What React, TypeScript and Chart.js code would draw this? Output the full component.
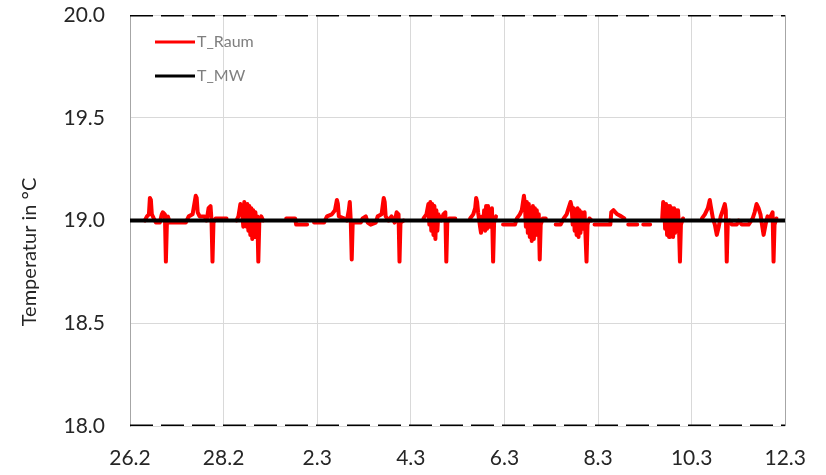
import React, { useEffect, useRef } from "react";
import { Chart, registerables } from "chart.js";

Chart.register(...registerables);

// time in hours since 26.2 00:00
const hours = [
  7.6, 8.7, 9.7, 10.2, 10.7, 11.2, 12.2, 13.3, 15.3, 16.3, 16.8, 17.9, 18.4, 18.9, 19.4, 20.4, 28.6, 30.1, 32.1, 33.7, 34.2, 34.7, 35.7, 38.2, 39.3, 40.3, 41.3, 41.8, 42.3, 42.8, 43.9, 49.5, 52,
  54.6, 55.6, 56.6, 57.6, 58.1, 58.6, 59.7, 60.2, 60.7, 61.2, 61.7, 62.2, 62.7, 63.2, 63.8, 64.3, 64.8, 65.3, 65.8, 66.3, 67.3, 68.3, 74,
  80.1, 84.7, 85.2, 90.8, 92,
  94.4, 99.5, 101.0, 103.5, 105.1, 106.1, 106.6, 107.1, 109.7, 111.2, 112.2, 112.7, 113.2, 113.7, 114.2, 118.3, 119.3, 120.9, 121.9, 123.4, 126.0, 127.0, 129.0, 130.1, 130.6, 131.1, 132.6, 134.1, 135.7, 136.7, 137.7, 138.2, 138.7, 140.3, 145,
  150.5, 152.0, 153.0, 153.5, 154.0, 154.5, 155.0, 155.6, 156.1, 156.6, 157.1, 157.6, 158.1, 159.6, 160.7, 161.7, 162.2, 162.7, 163.7, 166.8, 170,
  174.4, 176.0, 177.0, 177.5, 178.0, 178.5, 179.5, 180.0, 180.5, 181.1, 181.6, 182.1, 182.6, 183.1, 183.6, 184.1, 184.6, 185.1, 185.6, 186.2, 186.7, 187.7, 189,
  191.3, 197.4, 198.4, 199.9, 200.9, 202.0, 202.5, 203.0, 203.5, 204.0, 204.5, 205.0, 205.5, 206.0, 206.6, 207.1, 207.6, 208.1, 208.6, 209.1, 209.6, 210.1, 210.6, 211.7, 213.2, 215,
  218.3, 220.8, 222.4, 223.9, 224.9, 225.9, 226.4, 227.0, 227.5, 228.0, 228.5, 229.0, 229.5, 230.0, 230.5, 231.0, 231.5, 232.1, 233.1, 234.1, 234.6, 235.6, 236.6, 237.4,
  238.2, 246.3, 246.8, 247.9, 248.9, 249.9, 251.9, 253.5, 254.5,
  255.5, 260.1, 261.5,
  263.2, 266.7, 270,
  272.9, 273.4, 273.9, 274.4, 274.9, 275.4, 275.9, 276.4, 276.9, 277.4, 278.0, 278.5, 279.0, 279.5, 280.0, 280.5, 281.0, 281.5, 282.0, 282.5, 283.6, 288,
  293.3, 294.8, 296.3, 297.3, 297.8, 298.9, 299.9, 300.9, 301.9, 302.9, 304.0, 305.0, 305.5, 306.0, 306.5, 307.5, 308.6, 311.1, 312.1, 313.7, 317.2, 319.3, 320.3, 321.3, 322.3, 323.3, 323.9, 324.9, 325.9, 326.9, 327.9, 329.0, 329.5, 330.0, 330.5, 331.5,
];

const tRaum = [
  19.0, 19.02, 19.03, 19.11, 19.1, 19.03, 19.01, 18.99, 18.99, 19.03, 19.04, 19.03, 18.8, 18.98, 19.02, 18.99, 18.99, 19.02, 19.03, 19.12, 19.11, 19.04, 19.02, 19.02, 19.0, 19.06, 19.07, 19.0, 18.8, 18.99, 19.01, 19.01, null,
  19.0, 19.02, 19.08, 19.03, 18.97, 19.09, 18.97, 19.08, 18.95, 19.07, 18.93, 19.06, 18.91, 19.05, 18.92, 19.04, 18.98, 19.02, 18.8, 18.99, 19.02, 19.0, null,
  19.01, 19.01, 18.98, 18.98, null,
  18.99, 18.99, 19.02, 19.03, 19.05, 19.1, 19.08, 19.02, 19.01, 19.0, 19.05, 19.09, 19.0, 18.81, 18.99, 18.99, 19.01, 19.02, 18.99, 18.98, 18.99, 19.02, 19.03, 19.11, 19.09, 19.02, 19.0, 19.02, 18.99, 19.04, 19.03, 18.8, 18.99, 19.0, null,
  19.01, 19.03, 19.08, 18.98, 19.09, 18.95, 19.08, 18.93, 19.07, 18.91, 19.05, 18.95, 19.03, 19.0, 19.03, 19.04, 18.8, 18.99, 19.01, 19.01, null,
  19.01, 19.03, 19.06, 19.11, 19.09, 19.04, 18.97, 18.94, 19.02, 18.97, 19.05, 18.95, 19.07, 18.96, 19.07, 18.97, 19.05, 18.98, 19.06, 18.8, 18.99, 19.02, null,
  18.98, 18.98, 19.01, 19.03, 19.05, 19.12, 19.08, 18.97, 19.09, 18.94, 19.08, 18.92, 19.06, 18.9, 19.07, 18.91, 19.06, 18.93, 19.05, 18.95, 19.03, 18.81, 18.98, 19.01, 19.01, null,
  18.98, 18.98, 19.01, 19.03, 19.06, 19.09, 19.07, 18.98, 19.06, 18.95, 19.05, 18.93, 19.06, 18.92, 19.05, 18.94, 19.04, 18.96, 19.04, 18.8, 18.98, 19.01, 19.0, null,
  18.98, 18.98, 19.04, 19.05, 19.04, 19.03, 19.02, 19.01, null,
  18.98, 18.98, null,
  18.98, 18.98, null,
  19.01, 19.09, 19.08, 18.96, 19.08, 18.93, 19.07, 18.92, 19.07, 18.93, 19.06, 18.92, 19.06, 18.94, 19.05, 18.95, 19.05, 18.97, 18.8, 18.98, 19.01, null,
  19.01, 19.03, 19.06, 19.1, 19.07, 19.01, 18.98, 18.93, 18.97, 19.02, 19.05, 19.08, 19.05, 18.8, 18.98, 19.0, 18.98, 18.98, 19.0, 18.98, 18.98, 19.01, 19.04, 19.08, 19.06, 19.03, 18.99, 18.93, 18.98, 19.02, 19.01, 19.03, 19.04, 18.8, 18.98, 19.01,
];

const mwHours = [0, 336];
const tMW = [19.0, 19.0];
const tMax = [20.0, 20.0];
const tMin = [18.0, 18.0];

const xTickLabels = ["26.2", "28.2", "2.3", "4.3", "6.3", "8.3", "10.3", "12.3"];
const yTitle = "Temperatur in °C";
const seriesLabels = ["T_Raum", "T_MW"];

const FONT = "Lato, 'Open Sans', sans-serif";

const overlayPlugin = {
  id: "overlay",
  afterDraw(chart: any) {
    const ctx = chart.ctx;
    const a = chart.chartArea;
    ctx.save();
    ctx.translate(30, 252);
    ctx.rotate(-Math.PI / 2);
    ctx.font = `20px ${FONT}`;
    ctx.fillStyle = "#262626";
    ctx.textAlign = "center";
    ctx.textBaseline = "middle";
    ctx.fillText(yTitle, 0, 0);
    ctx.restore();

    ctx.save();
    const items = chart.data.datasets.filter((d: any) => d.label);
    items.forEach((d: any, i: number) => {
      const y = a.top + 27 + i * 34;
      ctx.strokeStyle = d.borderColor;
      ctx.lineWidth = 3;
      ctx.beginPath();
      ctx.moveTo(a.left + 25, y);
      ctx.lineTo(a.left + 65, y);
      ctx.stroke();
      ctx.font = `16px ${FONT}`;
      ctx.fillStyle = "#7f7f7f";
      ctx.textAlign = "left";
      ctx.textBaseline = "middle";
      ctx.fillText(d.label, a.left + 67, y);
    });
    ctx.restore();
  },
};

export default function App() {
  const ref = useRef<HTMLCanvasElement>(null);
  useEffect(() => {
    document.body.style.margin = "0";
    const raum = hours.map((h, i) => ({ x: h, y: tRaum[i] }));
    const mk = (vals: number[]) => mwHours.map((h, i) => ({ x: h, y: vals[i] }));
    const chart = new Chart(ref.current!, {
      type: "line",
      data: {
        datasets: [
          { label: seriesLabels[0], data: raum, borderColor: "#ff0000", borderWidth: 4, pointRadius: 0, spanGaps: false, order: 3, borderJoinStyle: "round", borderCapStyle: "round" },
          { label: seriesLabels[1], data: mk(tMW), borderColor: "#000000", borderWidth: 4, pointRadius: 0, order: 2 },
          { label: "", data: mk(tMax), borderColor: "#000000", borderWidth: 3, borderDash: [23, 8], pointRadius: 0, order: 1 },
          { label: "", data: mk(tMin), borderColor: "#000000", borderWidth: 3, borderDash: [23, 8], pointRadius: 0, order: 1 },
        ],
      },
      options: {
        responsive: false,
        animation: false,
        layout: { padding: { left: 0, right: 37, top: 15, bottom: 0 } },
        plugins: { legend: { display: false }, tooltip: { enabled: false } },
        scales: {
          x: {
            type: "linear",
            min: 0,
            max: 336,
            afterFit: (s: any) => { s.height = 49; },
            ticks: {
              stepSize: 48,
              autoSkip: false,
              maxRotation: 0,
              padding: 20,
              color: "#262626",
              font: { family: FONT, size: 21 },
              callback: (v: any) => {
                const i = Number(v) / 48;
                return Number.isInteger(i) ? xTickLabels[i] : "";
              },
            },
            grid: {
              drawTicks: false,
              color: (c: any) => (c.index === xTickLabels.length - 1 ? "#a6a6a6" : "#d9d9d9"),
              lineWidth: 1,
            },
            border: { display: false },
          },
          y: {
            min: 18,
            max: 20,
            afterFit: (s: any) => { s.width = 130; s.paddingTop = 10; s.paddingBottom = 10; },
            ticks: {
              stepSize: 0.5,
              padding: 25,
              color: "#262626",
              font: { family: FONT, size: 21 },
              callback: (v: any) => Number(v).toFixed(1),
            },
            grid: { drawTicks: false, color: "#d9d9d9", lineWidth: 1 },
            border: { display: true, color: "#a6a6a6", width: 1 },
          },
        },
      },
      plugins: [overlayPlugin],
    });
    return () => chart.destroy();
  }, []);
  return (
    <div style={{ width: 826, height: 475 }}>
      <canvas ref={ref} width={826} height={475} />
    </div>
  );
}
